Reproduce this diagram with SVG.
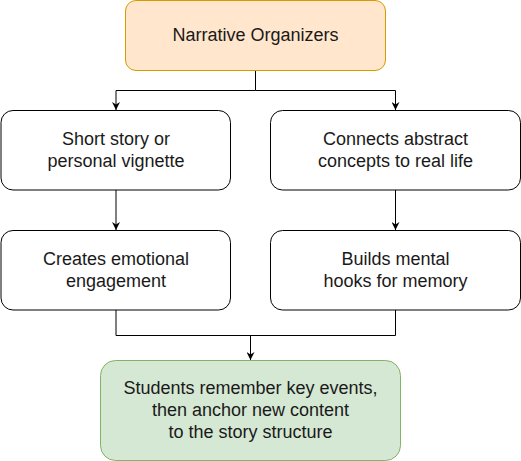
<svg xmlns="http://www.w3.org/2000/svg" width="521" height="461" viewBox="0 0 521 461">
<style>
.n{fill:#ffffff;stroke:#000000;stroke-width:1}
.t{font-family:"Liberation Sans",Arial,sans-serif;font-size:18px;fill:#1a1a1a;text-anchor:middle;dominant-baseline:central}
.c{fill:none;stroke:#000000;stroke-width:1}
</style>
<defs>
<marker id="a" viewBox="0 0 10 10" refX="10" refY="5" markerWidth="8" markerHeight="8" markerUnits="userSpaceOnUse" orient="auto">
<path d="M0,0 L10,5 L0,10 L3,5 Z" fill="#000"/>
</marker>
</defs>
<g id="connectors">
<path class="c" d="M255.5,70 V90.5 H116 V110" marker-end="url(#a)"/>
<path class="c" d="M255.5,90.5 H395.5 V110" marker-end="url(#a)"/>
<path class="c" d="M116,190 V230" marker-end="url(#a)"/>
<path class="c" d="M395.5,190 V230" marker-end="url(#a)"/>
<path class="c" d="M116,310 V335.5 H395.5 V310"/>
<path class="c" d="M250.5,335.5 V360" marker-end="url(#a)"/>
</g>
<g id="top">
<rect x="125.5" y="0.5" width="260" height="70" rx="10.5" fill="#ffe6cc" stroke="#d79b00"/>
<text class="t" x="255.5" y="35">Narrative Organizers</text>
</g>
<g id="story">
<rect class="n" x="1" y="110.5" width="229.5" height="79.5" rx="12"/>
<text class="t" x="116" y="139">Short story or</text>
<text class="t" x="116" y="161">personal vignette</text>
</g>
<g id="concepts">
<rect class="n" x="270.5" y="110.5" width="250" height="79.5" rx="12"/>
<text class="t" x="395.5" y="139">Connects abstract</text>
<text class="t" x="395.5" y="161">concepts to real life</text>
</g>
<g id="emotion">
<rect class="n" x="1" y="230.5" width="229.5" height="79.5" rx="12"/>
<text class="t" x="116" y="259">Creates emotional</text>
<text class="t" x="116" y="281">engagement</text>
</g>
<g id="hooks">
<rect class="n" x="270.5" y="230.5" width="250" height="79.5" rx="12"/>
<text class="t" x="395.5" y="259">Builds mental</text>
<text class="t" x="395.5" y="281">hooks for memory</text>
</g>
<g id="result">
<rect x="100.5" y="360.5" width="300" height="100" rx="15" fill="#d5e8d4" stroke="#82b366"/>
<text class="t" x="250.5" y="388">Students remember key events,</text>
<text class="t" x="250.5" y="410">then anchor new content</text>
<text class="t" x="250.5" y="432">to the story structure</text>
</g>
</svg>
